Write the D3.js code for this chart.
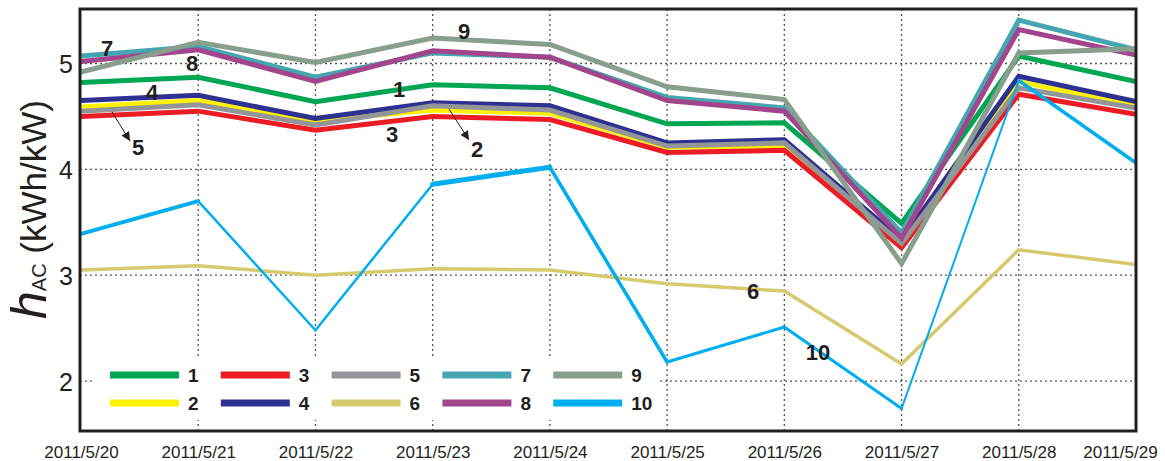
<!DOCTYPE html>
<html>
<head>
<meta charset="utf-8">
<script src="https://cdn.jsdelivr.net/npm/d3@7/dist/d3.min.js"></script>
<style>
  html, body { margin: 0; padding: 0; background: #fff; }
  svg { display: block; font-family: "Liberation Sans", Arial, sans-serif; }
</style>
</head>
<body>
<svg id="chart" width="1165" height="461"></svg>
<script>
// Daily AC final yield h_AC for ten PV systems
const dates = ["2011/5/20", "2011/5/21", "2011/5/22", "2011/5/23", "2011/5/24",
               "2011/5/25", "2011/5/26", "2011/5/27", "2011/5/28", "2011/5/29"];

const s1  = [4.82, 4.87, 4.64, 4.80, 4.77, 4.43, 4.44, 3.49, 5.07, 4.83];
const s2  = [4.59, 4.65, 4.46, 4.56, 4.53, 4.21, 4.22, 3.29, 4.83, 4.60];
const s3  = [4.50, 4.55, 4.37, 4.50, 4.47, 4.16, 4.18, 3.26, 4.71, 4.52];
const s4  = [4.65, 4.70, 4.48, 4.63, 4.60, 4.25, 4.28, 3.33, 4.88, 4.64];
const s5  = [4.55, 4.61, 4.42, 4.60, 4.56, 4.22, 4.25, 3.30, 4.77, 4.58];
const s6  = [3.05, 3.09, 3.00, 3.06, 3.05, 2.92, 2.85, 2.16, 3.24, 3.10];
const s7  = [5.07, 5.16, 4.87, 5.10, 5.06, 4.68, 4.58, 3.40, 5.41, 5.13];
const s8  = [5.02, 5.13, 4.83, 5.12, 5.06, 4.65, 4.55, 3.35, 5.32, 5.08];
const s9  = [4.92, 5.20, 5.01, 5.24, 5.18, 4.78, 4.66, 3.11, 5.10, 5.14];
const s10 = [3.39, 3.70, 2.48, 3.86, 4.02, 2.18, 2.51, 1.74, 4.84, 4.06];

const seriesNames = ["1", "2", "3", "4", "5", "6", "7", "8", "9", "10"];
const seriesValues = [s1, s2, s3, s4, s5, s6, s7, s8, s9, s10];
const seriesColors = ["#00a651", "#fff200", "#ed1c24", "#2e3192", "#939598",
                      "#d6c96e", "#45a6b1", "#a2458b", "#889e8f", "#00aeef"];
const seriesWidths = [5, 5, 5, 5, 5, 3.5, 5, 5, 5, 3];
// Series 10 is stroked with a different weight on each day-to-day segment
const s10SegmentWidths = [4, 2.5, 2.5, 5, 3.5, 3, 3, 2, 3.5];

const yTicks = [2, 3, 4, 5];

const svg = d3.select("#chart");
const frame = { left: 80, right: 1136, top: 9, bottom: 431 };

const x = d3.scalePoint().domain(dates).range([81, 1136]);
const y = d3.scaleLinear().domain([1.528, 5.515]).range([frame.bottom, frame.top]);

const ink = "#231f20";

// Dotted grid
const grid = svg.append("g").attr("stroke", "#555").attr("stroke-width", 1.3)
  .attr("stroke-dasharray", "2,3");
grid.selectAll("line.v").data(dates.slice(1, -1)).join("line")
  .attr("x1", d => x(d)).attr("x2", d => x(d))
  .attr("y1", frame.top).attr("y2", frame.bottom);
grid.selectAll("line.h").data(yTicks).join("line")
  .attr("x1", frame.left).attr("x2", frame.right)
  .attr("y1", d => y(d)).attr("y2", d => y(d));

// Legend backing
svg.append("rect").attr("x", 95).attr("y", 358).attr("width", 563).attr("height", 62)
  .attr("fill", "#fff");

// Series lines
const clipId = "plotclip";
svg.append("clipPath").attr("id", clipId).append("rect")
  .attr("x", frame.left).attr("y", frame.top)
  .attr("width", frame.right - frame.left).attr("height", frame.bottom - frame.top);

const line = d3.line().x((d, i) => x(dates[i])).y(d => y(d));
const plot = svg.append("g").attr("clip-path", `url(#${clipId})`);
plot.selectAll("path.series").data(seriesValues.slice(0, 9)).join("path")
  .attr("class", "series")
  .attr("d", d => line(d))
  .attr("fill", "none")
  .attr("stroke", (d, i) => seriesColors[i])
  .attr("stroke-width", (d, i) => seriesWidths[i])
  .attr("stroke-linejoin", "miter");

// Series 10 drawn segment by segment
const segs10 = d3.pairs(s10.map((v, i) => ({ date: dates[i], v })));
plot.selectAll("line.s10").data(segs10).join("line")
  .attr("class", "s10")
  .attr("x1", d => x(d[0].date)).attr("y1", d => y(d[0].v))
  .attr("x2", d => x(d[1].date)).attr("y2", d => y(d[1].v))
  .attr("stroke", seriesColors[9])
  .attr("stroke-width", (d, i) => s10SegmentWidths[i])
  .attr("stroke-linecap", "round");

// Axes
const xAxis = d3.axisBottom(x).tickSize(0).tickPadding(0);
const gx = svg.append("g").attr("transform", `translate(0,${frame.bottom})`).call(xAxis);
gx.select(".domain").remove();
gx.selectAll("text").attr("font-size", 17).attr("fill", ink)
  .attr("dy", null).attr("y", 27)
  .attr("dx", (d, i) => i === dates.length - 1 ? -16 : 0);

const yAxis = d3.axisLeft(y).tickValues(yTicks).tickFormat(d3.format("d"))
  .tickSize(0).tickPadding(7);
const gy = svg.append("g").attr("transform", `translate(${frame.left},0)`).call(yAxis);
gy.select(".domain").remove();
gy.selectAll("text").attr("font-size", 25).attr("fill", ink).attr("dy", "0.36em");

// Frame
svg.append("rect").attr("x", frame.left).attr("y", frame.top)
  .attr("width", frame.right - frame.left).attr("height", frame.bottom - frame.top)
  .attr("fill", "none").attr("stroke", ink).attr("stroke-width", 3);

// Y-axis title
const yt = svg.append("text")
  .attr("transform", "translate(46,319) rotate(-90)")
  .attr("fill", ink);
yt.append("tspan").attr("font-size", 50).attr("font-style", "italic").text("h");
yt.append("tspan").attr("font-size", 20).attr("dy", 0).text("AC");
yt.append("tspan").attr("font-size", 35).text(" (kWh/kW)");

// Legend
const legend = svg.append("g");
const legendCols = [0, 0, 1, 1, 2, 2, 3, 3, 4, 4];
const legendRows = [0, 1, 0, 1, 0, 1, 0, 1, 0, 1];
seriesNames.forEach((name, i) => {
  const lx = 110 + legendCols[i] * 110.8;
  const ly = 375 + legendRows[i] * 28;
  legend.append("line").attr("x1", lx).attr("x2", lx + 69)
    .attr("y1", ly).attr("y2", ly)
    .attr("stroke", seriesColors[i]).attr("stroke-width", 7);
  legend.append("text").attr("x", lx + 78).attr("y", ly).attr("dy", "0.36em")
    .attr("font-size", 19).attr("font-weight", "bold").attr("fill", ink).text(name);
});

// Inline series labels
const annot = [
  { t: "7", x: 107, y: 48 }, { t: "8", x: 192, y: 63 }, { t: "9", x: 464, y: 31 },
  { t: "1", x: 399, y: 89 }, { t: "4", x: 152, y: 92 }, { t: "3", x: 392, y: 134 },
  { t: "5", x: 138, y: 147 }, { t: "2", x: 477, y: 149 }, { t: "6", x: 753, y: 291 },
  { t: "10", x: 818, y: 352 }
];
svg.append("g").selectAll("text").data(annot).join("text")
  .attr("x", d => d.x).attr("y", d => d.y).attr("dy", "0.36em")
  .attr("text-anchor", "middle").attr("font-size", 22).attr("font-weight", "bold")
  .attr("fill", ink).text(d => d.t);

// Pointer arrows for labels 5 and 2
svg.append("defs").append("marker").attr("id", "arrow")
  .attr("viewBox", "0 0 10 10").attr("refX", 10).attr("refY", 5)
  .attr("markerWidth", 9).attr("markerHeight", 9).attr("markerUnits", "userSpaceOnUse")
  .attr("orient", "auto")
  .append("path").attr("d", "M0,0 L10,5 L0,10 Z").attr("fill", ink);
const arrows = [
  { x1: 112, y1: 112, x2: 130, y2: 141 },
  { x1: 449, y1: 109, x2: 469, y2: 140 }
];
svg.append("g").selectAll("line").data(arrows).join("line")
  .attr("x1", d => d.x1).attr("y1", d => d.y1).attr("x2", d => d.x2).attr("y2", d => d.y2)
  .attr("stroke", ink).attr("stroke-width", 1).attr("marker-end", "url(#arrow)");
</script>
</body>
</html>
